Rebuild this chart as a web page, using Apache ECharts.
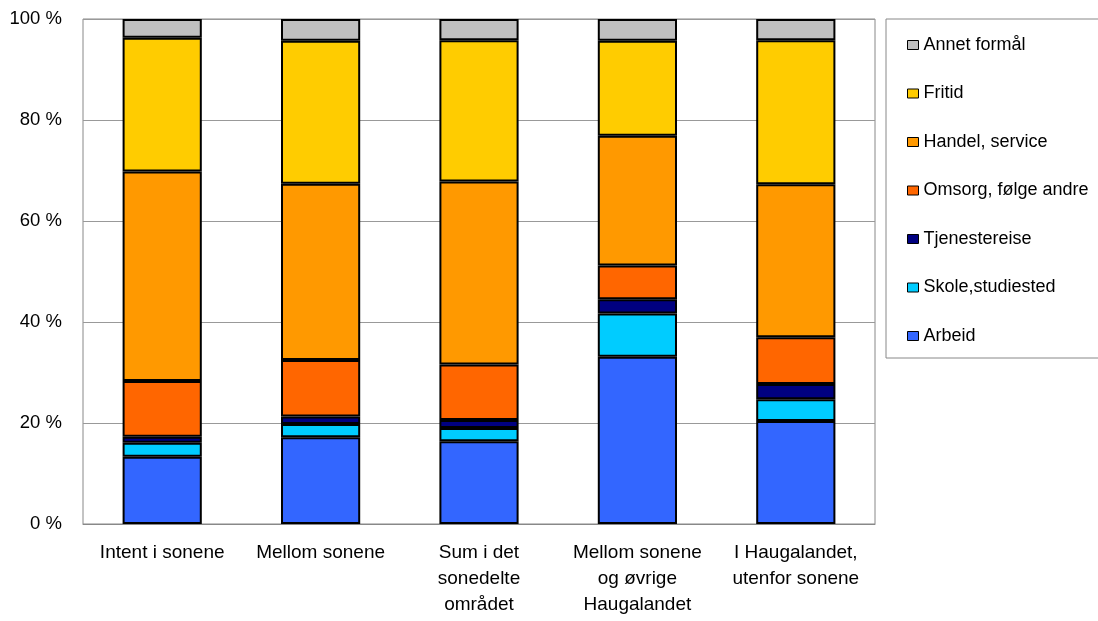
<!DOCTYPE html>
<html>
<head>
<meta charset="utf-8">
<script src="https://cdn.jsdelivr.net/npm/echarts@6/dist/echarts.min.js"></script>
<style>
html,body{margin:0;padding:0;background:#fff;}
#chart{width:1098px;height:621px;}
</style>
</head>
<body>
<div id="chart"></div>
<script>
const categories = ["Intent i sonene", "Mellom sonene", "Sum i det\nsonedelte\nområdet", "Mellom sonene\nog øvrige\nHaugalandet", "I Haugalandet,\nutenfor sonene"];
const arbeid   = [13.3, 17.2, 16.4, 33.1, 20.4];
const skole    = [2.8, 2.6, 2.6, 8.6, 4.3];
const tjeneste = [1.2, 1.5, 1.6, 2.8, 3.0];
const omsorg   = [11.0, 11.2, 11.0, 6.7, 9.3];
const handel   = [41.5, 34.9, 36.2, 25.7, 30.3];
const fritid   = [26.5, 28.3, 28.0, 18.8, 28.5];
const annet    = [3.7, 4.3, 4.2, 4.3, 4.2];
const yTicks = [0, 20, 40, 60, 80, 100];

const seriesDefs = [
  {name: "Arbeid", data: arbeid, color: "#3366FF"},
  {name: "Skole,studiested", data: skole, color: "#00CCFF"},
  {name: "Tjenestereise", data: tjeneste, color: "#000080"},
  {name: "Omsorg, følge andre", data: omsorg, color: "#FF6600"},
  {name: "Handel, service", data: handel, color: "#FF9900"},
  {name: "Fritid", data: fritid, color: "#FFCC00"},
  {name: "Annet formål", data: annet, color: "#C0C0C0"}
];

const FONT = "'Liberation Sans', Arial, sans-serif";
const chart = echarts.init(document.getElementById('chart'));
chart.setOption({
  backgroundColor: '#fff',
  animation: false,
  textStyle: {fontFamily: FONT},
  grid: {left: 83, right: 223, top: 19, bottom: 97, show: true, borderColor: '#888', borderWidth: 1, backgroundColor: 'transparent'},
  legend: {
    orient: 'vertical',
    left: 886, top: 19,
    data: seriesDefs.map(s => s.name).reverse(),
    itemWidth: 11, itemHeight: 9,
    itemGap: 30.5,
    padding: [17, 10, 13, 21],
    borderColor: '#888', borderWidth: 1,
    textStyle: {fontFamily: FONT, fontSize: 18, lineHeight: 18, color: '#000'},
    itemStyle: {borderColor: '#000', borderWidth: 1},
    icon: 'rect'
  },
  xAxis: {
    type: 'category',
    data: categories,
    axisLine: {show: true, lineStyle: {color: '#888'}},
    axisTick: {show: false},
    axisLabel: {fontFamily: FONT, fontSize: 19, color: '#000', lineHeight: 26, margin: 16, interval: 0}
  },
  yAxis: {
    type: 'value', min: 0, max: 100, interval: 20,
    axisLine: {show: false}, axisTick: {show: false},
    splitLine: {lineStyle: {color: '#999'}},
    axisLabel: {fontFamily: FONT, fontSize: 18.5, color: '#000', margin: 21, formatter: v => yTicks.includes(v) ? v + ' %' : ''}
  },
  series: seriesDefs.map(s => ({
    name: s.name, type: 'bar', stack: 'total', barWidth: '50%',
    data: s.data,
    itemStyle: {color: s.color, borderColor: '#000', borderWidth: 2}
  }))
});
</script>
</body>
</html>
